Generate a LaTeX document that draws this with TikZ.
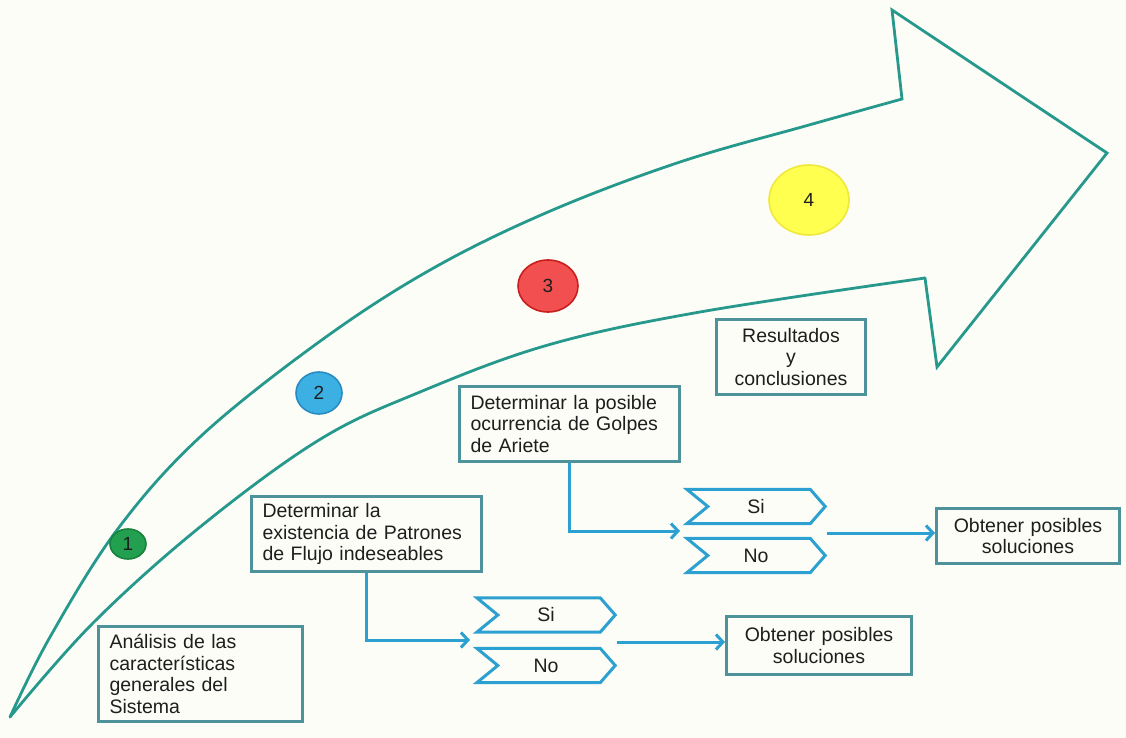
\documentclass[tikz,border=0pt]{standalone}
\usepackage{fontspec}
\setmainfont{Liberation Sans}
\usetikzlibrary{arrows.meta,shapes.geometric}
\definecolor{bgcol}{RGB}{253,253,248}
\definecolor{arrowcol}{RGB}{38,152,140}
\definecolor{boxcol}{RGB}{78,146,156}
\definecolor{flowcol}{RGB}{44,160,208}
\definecolor{txtcol}{RGB}{30,30,30}
\definecolor{c1fill}{RGB}{34,160,80}
\definecolor{c1line}{RGB}{24,130,60}
\definecolor{c2fill}{RGB}{60,176,226}
\definecolor{c2line}{RGB}{40,140,195}
\definecolor{c3fill}{RGB}{242,80,80}
\definecolor{c3line}{RGB}{200,30,30}
\definecolor{c4fill}{RGB}{255,255,80}
\definecolor{c4line}{RGB}{240,232,60}
\tikzset{
  arrowline/.style={draw=arrowcol, line width=2.8pt, line join=miter, line cap=round},
  txtbox/.style={draw=boxcol, line width=3pt, fill=bgcol, anchor=north west,
    inner xsep=11pt, inner ysep=0pt, text=txtcol, font=\fontsize{19.5}{21.5}\selectfont},
  leftbox/.style={txtbox, align=left},
  midbox/.style={txtbox, align=center},
  chev/.style={minimum width=138pt, minimum height=34pt, inner sep=0pt,
    text=txtcol, font=\fontsize{19.5}{21.5}\selectfont},
  chevline/.style={draw=flowcol, line width=3pt, line join=miter},
  flow/.style={draw=flowcol, line width=3pt, -{Straight Barb[length=7pt,width=15pt]}},
  num/.style={ellipse, inner sep=0pt, line width=1.6pt, text=txtcol,
    font=\fontsize{19}{21}\selectfont}
}
\begin{document}
\begin{tikzpicture}[x=1pt,y=-1pt]
\fill[bgcol] (0,0) rectangle (1126,738);
\useasboundingbox (0,0) rectangle (1126,738);

% big curved arrow
\draw[arrowline] plot[smooth, tension=0.6] coordinates {(10,717) (50,637) (117,530) (200,437) (319,342) (430,270) (548,212) (680,162) (809,125) (902,99)}
  -- (892,10) -- (1107,153) -- (937,367) -- (925,278);
\draw[arrowline] plot[smooth, tension=0.6] coordinates {(925,278) (700,312) (548,345) (420,392) (319,440) (200,527) (93,623) (10,717)};

% numbered circles
\node[num, fill=c1fill, draw=c1line, minimum width=36pt, minimum height=30pt] (n1) at (128,544) {1};
\node[num, fill=c2fill, draw=c2line, minimum width=46pt, minimum height=42pt] (n2) at (319,393) {2};
\node[num, fill=c3fill, draw=c3line, minimum width=60pt, minimum height=52pt] (n3) at (548,286) {3};
\node[num, fill=c4fill, draw=c4line, minimum width=80pt, minimum height=70pt] (n4) at (809,200) {4};

% text boxes
\node[leftbox, text width=182pt, minimum height=95pt] (b1) at (97,625)
  {Análisis de las\\características\\generales del\\Sistema};
\node[leftbox, text width=208pt, minimum height=75pt] (b2) at (250,495)
  {Determinar la\\existencia de Patrones\\de Flujo indeseables};
\node[leftbox, text width=198pt, minimum height=75pt] (b3) at (458,385)
  {Determinar la posible\\ocurrencia de Golpes\\de Ariete};
\node[midbox, text width=127pt, minimum height=75pt] (res) at (715,318)
  {Resultados\\y\\conclusiones};
\node[midbox, text width=163pt, minimum height=58pt] (ob1) at (725,615)
  {Obtener posibles\\soluciones};
\node[midbox, text width=161pt, minimum height=55pt] (ob2) at (935,507)
  {Obtener posibles\\soluciones};

% chevrons
\node[chev] (si1) at (546,615) {Si};
\node[chev] (no1) at (546,665.5) {No};
\node[chev] (si2) at (756,506.5) {Si};
\node[chev] (no2) at (756,555.5) {No};
\foreach \c in {si1,no1,si2,no2}{
  \draw[chevline] (\c.north west) -- ([xshift=-15pt]\c.north east) -- (\c.east)
    -- ([xshift=-15pt]\c.south east) -- (\c.south west) -- ([xshift=21pt]\c.west) -- cycle;
}

% connectors
\coordinate (e1) at (470,640);
\coordinate (e2) at (680,531);
\coordinate (s1) at (617,642);
\coordinate (s2) at (827,533);
\draw[flow] (b2.south) |- (e1);
\draw[flow] (b3.south) |- (e2);
\draw[flow] (s1) -- (s1 -| ob1.west);
\draw[flow] (s2) -- (s2 -| ob2.west);
\end{tikzpicture}
\end{document}
